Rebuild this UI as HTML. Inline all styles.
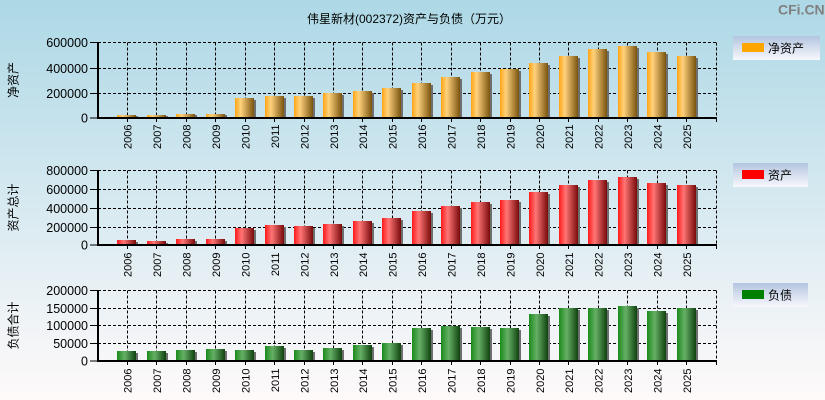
<!DOCTYPE html>
<html><head><meta charset="utf-8"><style>
html,body{margin:0;padding:0;width:825px;height:400px;overflow:hidden}
svg{display:block}
text{font-family:"Liberation Sans","Noto Sans CJK SC",sans-serif}
.cjk{font-family:"Liberation Sans","Noto Sans CJK SC","WenQuanYi Zen Hei",sans-serif}
.yl{font-size:12.5px;fill:#000;text-anchor:end}
.xl{font-size:11px;fill:#000;text-anchor:end}
.g{stroke:#000;stroke-width:1;stroke-dasharray:3,2;fill:none}
.ax{stroke:#000;stroke-width:2;fill:none}
.tk{stroke:#000;stroke-width:1;fill:none}
.sh{fill:#6e6e6e}
</style></head><body>
<svg width="825" height="400" viewBox="0 0 825 400" xmlns="http://www.w3.org/2000/svg">
<defs>
<linearGradient id="bg" x1="0" y1="0" x2="0" y2="1"><stop offset="0" stop-color="#ADD8E6"/><stop offset="1" stop-color="#FFFAFA"/></linearGradient>
<linearGradient id="lg" x1="0" y1="0" x2="0" y2="1"><stop offset="0" stop-color="#B3C5E0"/><stop offset="1" stop-color="#F8F8FC"/></linearGradient>
<linearGradient id="go" x1="0" y1="0" x2="1" y2="0"><stop offset="0" stop-color="#FFA414"/><stop offset="0.3" stop-color="#FFD27C"/><stop offset="1" stop-color="#7A5410"/></linearGradient>
<linearGradient id="gr" x1="0" y1="0" x2="1" y2="0"><stop offset="0" stop-color="#FF1A1A"/><stop offset="0.35" stop-color="#FF7575"/><stop offset="1" stop-color="#780A0A"/></linearGradient>
<linearGradient id="gg" x1="0" y1="0" x2="1" y2="0"><stop offset="0" stop-color="#1A8A1A"/><stop offset="0.4" stop-color="#66B066"/><stop offset="1" stop-color="#0F420F"/></linearGradient>
</defs>
<rect x="0" y="0" width="825" height="400" fill="url(#bg)"/>

<text x="409" y="23" class="cjk" font-size="12" text-anchor="middle" fill="#000">伟星新材(002372)资产与负债（万元）</text>
<text x="778" y="14.5" font-size="14" font-weight="bold" fill="#808080">CFi.CN</text>

<!-- ===== Chart 1 ===== -->
<g>
<path class="g" d="M98 42.5H716.5M98 68.5H716.5M98 93.5H716.5M716.5 42.5V118"/>
<path class="g" d="M127.5 42.5V117M156.5 42.5V117M186.5 42.5V117M215.5 42.5V117M245.5 42.5V117M274.5 42.5V117M304.5 42.5V117M333.5 42.5V117M362.5 42.5V117M392.5 42.5V117M421.5 42.5V117M451.5 42.5V117M480.5 42.5V117M510.5 42.5V117M539.5 42.5V117M568.5 42.5V117M598.5 42.5V117M627.5 42.5V117M657.5 42.5V117M686.5 42.5V117"/>
<g fill="url(#go)">
<rect x="117" y="115" width="19" height="2"/><rect x="147" y="115" width="19" height="2"/><rect x="176" y="114" width="19" height="3"/><rect x="206" y="114" width="19" height="3"/><rect x="235" y="98" width="19" height="19"/><rect x="265" y="96" width="19" height="21"/><rect x="294" y="96" width="19" height="21"/><rect x="323" y="93" width="19" height="24"/><rect x="353" y="91" width="19" height="26"/><rect x="382" y="88" width="19" height="29"/><rect x="412" y="83" width="19" height="34"/><rect x="441" y="77" width="19" height="40"/><rect x="471" y="72" width="19" height="45"/><rect x="500" y="69" width="19" height="48"/><rect x="529" y="63" width="19" height="54"/><rect x="559" y="56" width="19" height="61"/><rect x="588" y="49" width="19" height="68"/><rect x="618" y="46" width="19" height="71"/><rect x="647" y="52" width="19" height="65"/><rect x="677" y="56" width="19" height="61"/>
</g>
<g class="sh">
<rect x="136" y="116" width="2" height="1"/><rect x="166" y="116" width="2" height="1"/><rect x="195" y="115" width="2" height="2"/><rect x="225" y="115" width="2" height="2"/><rect x="254" y="100" width="2" height="17"/><rect x="284" y="98" width="2" height="19"/><rect x="313" y="98" width="2" height="19"/><rect x="342" y="95" width="2" height="22"/><rect x="372" y="93" width="2" height="24"/><rect x="401" y="90" width="2" height="27"/><rect x="431" y="85" width="2" height="32"/><rect x="460" y="79" width="2" height="38"/><rect x="490" y="74" width="2" height="43"/><rect x="519" y="71" width="2" height="46"/><rect x="548" y="65" width="2" height="52"/><rect x="578" y="58" width="2" height="59"/><rect x="607" y="51" width="2" height="66"/><rect x="637" y="48" width="2" height="69"/><rect x="666" y="54" width="2" height="63"/><rect x="696" y="58" width="2" height="59"/>
</g>
<path class="ax" d="M98 42V119M97 118H717"/>
<path class="tk" d="M90 42.5H98M90 68.5H98M90 93.5H98M90 118H98M127.5 118V122M156.5 118V122M186.5 118V122M215.5 118V122M245.5 118V122M274.5 118V122M304.5 118V122M333.5 118V122M362.5 118V122M392.5 118V122M421.5 118V122M451.5 118V122M480.5 118V122M510.5 118V122M539.5 118V122M568.5 118V122M598.5 118V122M627.5 118V122M657.5 118V122M686.5 118V122M716.5 118V122"/>
<text class="yl" x="88" y="47">600000</text><text class="yl" x="88" y="73">400000</text><text class="yl" x="88" y="98">200000</text><text class="yl" x="88" y="122.5">0</text>
<g class="xl">
<text class="xl" transform="translate(131.5,124.5) rotate(-90)">2006</text><text class="xl" transform="translate(161,124.5) rotate(-90)">2007</text><text class="xl" transform="translate(190.5,124.5) rotate(-90)">2008</text><text class="xl" transform="translate(220,124.5) rotate(-90)">2009</text><text class="xl" transform="translate(249.5,124.5) rotate(-90)">2010</text><text class="xl" transform="translate(279,124.5) rotate(-90)">2011</text><text class="xl" transform="translate(308.5,124.5) rotate(-90)">2012</text><text class="xl" transform="translate(338,124.5) rotate(-90)">2013</text><text class="xl" transform="translate(367,124.5) rotate(-90)">2014</text><text class="xl" transform="translate(396.5,124.5) rotate(-90)">2015</text><text class="xl" transform="translate(426,124.5) rotate(-90)">2016</text><text class="xl" transform="translate(455.5,124.5) rotate(-90)">2017</text><text class="xl" transform="translate(485,124.5) rotate(-90)">2018</text><text class="xl" transform="translate(514.5,124.5) rotate(-90)">2019</text><text class="xl" transform="translate(544,124.5) rotate(-90)">2020</text><text class="xl" transform="translate(573,124.5) rotate(-90)">2021</text><text class="xl" transform="translate(602.5,124.5) rotate(-90)">2022</text><text class="xl" transform="translate(632,124.5) rotate(-90)">2023</text><text class="xl" transform="translate(661.5,124.5) rotate(-90)">2024</text><text class="xl" transform="translate(691,124.5) rotate(-90)">2025</text>
</g>
<text class="cjk" font-size="12" text-anchor="middle" transform="translate(17.5,80) rotate(-90)">净资产</text>
<rect x="733" y="36" width="87" height="24" fill="url(#lg)"/>
<rect x="742" y="43" width="22" height="9" fill="#FFA500"/>
<text class="cjk" x="768" y="52.5" font-size="12">净资产</text>
</g>

<!-- ===== Chart 2 ===== -->
<g>
<path class="g" d="M98 170.5H716.5M98 189.5H716.5M98 208.5H716.5M98 227.5H716.5M716.5 170.5V245"/>
<path class="g" d="M127.5 170.5V244M156.5 170.5V244M186.5 170.5V244M215.5 170.5V244M245.5 170.5V244M274.5 170.5V244M304.5 170.5V244M333.5 170.5V244M362.5 170.5V244M392.5 170.5V244M421.5 170.5V244M451.5 170.5V244M480.5 170.5V244M510.5 170.5V244M539.5 170.5V244M568.5 170.5V244M598.5 170.5V244M627.5 170.5V244M657.5 170.5V244M686.5 170.5V244"/>
<g fill="url(#gr)">
<rect x="117" y="240" width="19" height="4"/><rect x="147" y="241" width="19" height="3"/><rect x="176" y="239" width="19" height="5"/><rect x="206" y="239" width="19" height="5"/><rect x="235" y="228" width="19" height="16"/><rect x="265" y="225" width="19" height="19"/><rect x="294" y="226" width="19" height="18"/><rect x="323" y="224" width="19" height="20"/><rect x="353" y="221" width="19" height="23"/><rect x="382" y="218" width="19" height="26"/><rect x="412" y="211" width="19" height="33"/><rect x="441" y="206" width="19" height="38"/><rect x="471" y="202" width="19" height="42"/><rect x="500" y="200" width="19" height="44"/><rect x="529" y="192" width="19" height="52"/><rect x="559" y="185" width="19" height="59"/><rect x="588" y="180" width="19" height="64"/><rect x="618" y="177" width="19" height="67"/><rect x="647" y="183" width="19" height="61"/><rect x="677" y="185" width="19" height="59"/>
</g>
<g class="sh">
<rect x="136" y="242" width="2" height="2"/><rect x="166" y="243" width="2" height="1"/><rect x="195" y="241" width="2" height="3"/><rect x="225" y="241" width="2" height="3"/><rect x="254" y="230" width="2" height="14"/><rect x="284" y="227" width="2" height="17"/><rect x="313" y="228" width="2" height="16"/><rect x="342" y="226" width="2" height="18"/><rect x="372" y="223" width="2" height="21"/><rect x="401" y="220" width="2" height="24"/><rect x="431" y="213" width="2" height="31"/><rect x="460" y="208" width="2" height="36"/><rect x="490" y="204" width="2" height="40"/><rect x="519" y="202" width="2" height="42"/><rect x="548" y="194" width="2" height="50"/><rect x="578" y="187" width="2" height="57"/><rect x="607" y="182" width="2" height="62"/><rect x="637" y="179" width="2" height="65"/><rect x="666" y="185" width="2" height="59"/><rect x="696" y="187" width="2" height="57"/>
</g>
<path class="ax" d="M98 170V246M97 245H717"/>
<path class="tk" d="M90 170.5H98M90 189.5H98M90 208.5H98M90 227.5H98M90 245H98M127.5 245V249M156.5 245V249M186.5 245V249M215.5 245V249M245.5 245V249M274.5 245V249M304.5 245V249M333.5 245V249M362.5 245V249M392.5 245V249M421.5 245V249M451.5 245V249M480.5 245V249M510.5 245V249M539.5 245V249M568.5 245V249M598.5 245V249M627.5 245V249M657.5 245V249M686.5 245V249M716.5 245V249"/>
<text class="yl" x="88" y="175">800000</text><text class="yl" x="88" y="194">600000</text><text class="yl" x="88" y="213">400000</text><text class="yl" x="88" y="232">200000</text><text class="yl" x="88" y="249.5">0</text>
<text class="xl" transform="translate(131.5,252.5) rotate(-90)">2006</text><text class="xl" transform="translate(161,252.5) rotate(-90)">2007</text><text class="xl" transform="translate(190.5,252.5) rotate(-90)">2008</text><text class="xl" transform="translate(220,252.5) rotate(-90)">2009</text><text class="xl" transform="translate(249.5,252.5) rotate(-90)">2010</text><text class="xl" transform="translate(279,252.5) rotate(-90)">2011</text><text class="xl" transform="translate(308.5,252.5) rotate(-90)">2012</text><text class="xl" transform="translate(338,252.5) rotate(-90)">2013</text><text class="xl" transform="translate(367,252.5) rotate(-90)">2014</text><text class="xl" transform="translate(396.5,252.5) rotate(-90)">2015</text><text class="xl" transform="translate(426,252.5) rotate(-90)">2016</text><text class="xl" transform="translate(455.5,252.5) rotate(-90)">2017</text><text class="xl" transform="translate(485,252.5) rotate(-90)">2018</text><text class="xl" transform="translate(514.5,252.5) rotate(-90)">2019</text><text class="xl" transform="translate(544,252.5) rotate(-90)">2020</text><text class="xl" transform="translate(573,252.5) rotate(-90)">2021</text><text class="xl" transform="translate(602.5,252.5) rotate(-90)">2022</text><text class="xl" transform="translate(632,252.5) rotate(-90)">2023</text><text class="xl" transform="translate(661.5,252.5) rotate(-90)">2024</text><text class="xl" transform="translate(691,252.5) rotate(-90)">2025</text>
<text class="cjk" font-size="12" text-anchor="middle" transform="translate(17.5,207.5) rotate(-90)">资产总计</text>
<rect x="733" y="163" width="75" height="24" fill="url(#lg)"/>
<rect x="742" y="170" width="22" height="9" fill="#FF0000"/>
<text class="cjk" x="768" y="179.5" font-size="12">资产</text>
</g>

<!-- ===== Chart 3 ===== -->
<g>
<path class="g" d="M98 290.5H716.5M98 308.5H716.5M98 325.5H716.5M98 343.5H716.5M716.5 290.5V361"/>
<path class="g" d="M127.5 290.5V360M156.5 290.5V360M186.5 290.5V360M215.5 290.5V360M245.5 290.5V360M274.5 290.5V360M304.5 290.5V360M333.5 290.5V360M362.5 290.5V360M392.5 290.5V360M421.5 290.5V360M451.5 290.5V360M480.5 290.5V360M510.5 290.5V360M539.5 290.5V360M568.5 290.5V360M598.5 290.5V360M627.5 290.5V360M657.5 290.5V360M686.5 290.5V360"/>
<g fill="url(#gg)">
<rect x="117" y="351" width="19" height="9"/><rect x="147" y="351" width="19" height="9"/><rect x="176" y="350" width="19" height="10"/><rect x="206" y="349" width="19" height="11"/><rect x="235" y="350" width="19" height="10"/><rect x="265" y="346" width="19" height="14"/><rect x="294" y="350" width="19" height="10"/><rect x="323" y="348" width="19" height="12"/><rect x="353" y="345" width="19" height="15"/><rect x="382" y="343" width="19" height="17"/><rect x="412" y="328" width="19" height="32"/><rect x="441" y="326" width="19" height="34"/><rect x="471" y="327" width="19" height="33"/><rect x="500" y="328" width="19" height="32"/><rect x="529" y="314" width="19" height="46"/><rect x="559" y="308" width="19" height="52"/><rect x="588" y="308" width="19" height="52"/><rect x="618" y="306" width="19" height="54"/><rect x="647" y="311" width="19" height="49"/><rect x="677" y="308" width="19" height="52"/>
</g>
<g class="sh">
<rect x="136" y="353" width="2" height="7"/><rect x="166" y="353" width="2" height="7"/><rect x="195" y="352" width="2" height="8"/><rect x="225" y="351" width="2" height="9"/><rect x="254" y="352" width="2" height="8"/><rect x="284" y="348" width="2" height="12"/><rect x="313" y="352" width="2" height="8"/><rect x="342" y="350" width="2" height="10"/><rect x="372" y="347" width="2" height="13"/><rect x="401" y="345" width="2" height="15"/><rect x="431" y="330" width="2" height="30"/><rect x="460" y="328" width="2" height="32"/><rect x="490" y="329" width="2" height="31"/><rect x="519" y="330" width="2" height="30"/><rect x="548" y="316" width="2" height="44"/><rect x="578" y="310" width="2" height="50"/><rect x="607" y="310" width="2" height="50"/><rect x="637" y="308" width="2" height="52"/><rect x="666" y="313" width="2" height="47"/><rect x="696" y="310" width="2" height="50"/>
</g>
<path class="ax" d="M98 290V362M97 361H717"/>
<path class="tk" d="M90 290.5H98M90 308.5H98M90 325.5H98M90 343.5H98M90 361H98M127.5 361V365M156.5 361V365M186.5 361V365M215.5 361V365M245.5 361V365M274.5 361V365M304.5 361V365M333.5 361V365M362.5 361V365M392.5 361V365M421.5 361V365M451.5 361V365M480.5 361V365M510.5 361V365M539.5 361V365M568.5 361V365M598.5 361V365M627.5 361V365M657.5 361V365M686.5 361V365M716.5 361V365"/>
<text class="yl" x="88" y="295">200000</text><text class="yl" x="88" y="313">150000</text><text class="yl" x="88" y="330">100000</text><text class="yl" x="88" y="348">50000</text><text class="yl" x="88" y="365.5">0</text>
<text class="xl" transform="translate(131.5,368.5) rotate(-90)">2006</text><text class="xl" transform="translate(161,368.5) rotate(-90)">2007</text><text class="xl" transform="translate(190.5,368.5) rotate(-90)">2008</text><text class="xl" transform="translate(220,368.5) rotate(-90)">2009</text><text class="xl" transform="translate(249.5,368.5) rotate(-90)">2010</text><text class="xl" transform="translate(279,368.5) rotate(-90)">2011</text><text class="xl" transform="translate(308.5,368.5) rotate(-90)">2012</text><text class="xl" transform="translate(338,368.5) rotate(-90)">2013</text><text class="xl" transform="translate(367,368.5) rotate(-90)">2014</text><text class="xl" transform="translate(396.5,368.5) rotate(-90)">2015</text><text class="xl" transform="translate(426,368.5) rotate(-90)">2016</text><text class="xl" transform="translate(455.5,368.5) rotate(-90)">2017</text><text class="xl" transform="translate(485,368.5) rotate(-90)">2018</text><text class="xl" transform="translate(514.5,368.5) rotate(-90)">2019</text><text class="xl" transform="translate(544,368.5) rotate(-90)">2020</text><text class="xl" transform="translate(573,368.5) rotate(-90)">2021</text><text class="xl" transform="translate(602.5,368.5) rotate(-90)">2022</text><text class="xl" transform="translate(632,368.5) rotate(-90)">2023</text><text class="xl" transform="translate(661.5,368.5) rotate(-90)">2024</text><text class="xl" transform="translate(691,368.5) rotate(-90)">2025</text>
<text class="cjk" font-size="12" text-anchor="middle" transform="translate(17.5,325.5) rotate(-90)">负债合计</text>
<rect x="733" y="283" width="75" height="24" fill="url(#lg)"/>
<rect x="742" y="290" width="22" height="9" fill="#008000"/>
<text class="cjk" x="768" y="299.5" font-size="12">负债</text>
</g>
</svg>
</body></html>
